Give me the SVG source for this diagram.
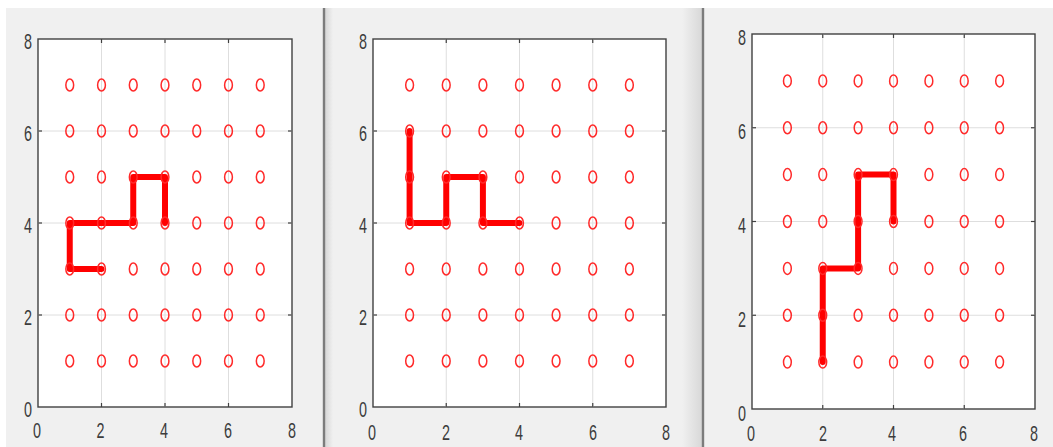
<svg xmlns="http://www.w3.org/2000/svg" xmlns:xlink="http://www.w3.org/1999/xlink" width="1053" height="447" viewBox="0 0 1053 447">
<style>
.bg{fill:#f0f0f0}
.sep{stroke:#7c7c7c;stroke-width:2.4}
.ax{fill:#ffffff;stroke:#404040;stroke-width:1.4}
.grid{stroke:#dedede;stroke-width:1}
.tick{stroke:#404040;stroke-width:1.2}
.lbl{font-family:"Liberation Sans",Arial,sans-serif;font-size:22px;fill:#3c3c3c;text-anchor:middle}
.pt{fill:none;stroke:#ff2a2a;stroke-width:1.5}
.path{fill:none;stroke:#ff0000;stroke-width:6;stroke-linejoin:round;stroke-linecap:round}
</style>
<defs>
<ellipse id="o" class="pt" cx="0" cy="0" rx="3.9" ry="6"/>
<linearGradient id="g1" x1="0" x2="1" y1="0" y2="0">
<stop offset="0" stop-color="#d6d6d6"/><stop offset="1" stop-color="#f0f0f0"/>
</linearGradient>
<linearGradient id="g2" x1="0" x2="1" y1="0" y2="0">
<stop offset="0" stop-color="#f0f0f0"/><stop offset="1" stop-color="#d8d8d8"/>
</linearGradient>
</defs>
<rect x="0" y="0" width="1053" height="447" fill="#ffffff"/>
<rect class="bg" x="6" y="8" width="1047" height="439"/>
<rect x="325" y="8" width="8" height="439" fill="url(#g1)"/>
<rect x="682" y="8" width="20" height="439" fill="url(#g2)"/>
<line class="sep" x1="324" y1="8" x2="324" y2="447"/>
<line class="sep" x1="703" y1="8" x2="703" y2="447"/>

<g id="panel1">
<rect class="ax" x="38" y="39" width="254" height="368"/>
<g class="grid">
<line x1="101.5" y1="39" x2="101.5" y2="407"/><line x1="165" y1="39" x2="165" y2="407"/><line x1="228.5" y1="39" x2="228.5" y2="407"/>
<line x1="38" y1="131" x2="292" y2="131"/><line x1="38" y1="223" x2="292" y2="223"/><line x1="38" y1="315" x2="292" y2="315"/>
</g>
<g class="tick">
<line x1="101.5" y1="407" x2="101.5" y2="403"/><line x1="165" y1="407" x2="165" y2="403"/><line x1="228.5" y1="407" x2="228.5" y2="403"/>
<line x1="101.5" y1="39" x2="101.5" y2="43"/><line x1="165" y1="39" x2="165" y2="43"/><line x1="228.5" y1="39" x2="228.5" y2="43"/>
<line x1="38" y1="131" x2="42" y2="131"/><line x1="38" y1="223" x2="42" y2="223"/><line x1="38" y1="315" x2="42" y2="315"/>
<line x1="292" y1="131" x2="288" y2="131"/><line x1="292" y1="223" x2="288" y2="223"/><line x1="292" y1="315" x2="288" y2="315"/>
</g>
<polyline class="path" points="101.5,269 69.75,269 69.75,223 133.25,223 133.25,177 165,177 165,223"/>
<g>
<use xlink:href="#o" x="69.75" y="85"/><use xlink:href="#o" x="101.5" y="85"/><use xlink:href="#o" x="133.25" y="85"/><use xlink:href="#o" x="165" y="85"/><use xlink:href="#o" x="196.75" y="85"/><use xlink:href="#o" x="228.5" y="85"/><use xlink:href="#o" x="260.25" y="85"/>
<use xlink:href="#o" x="69.75" y="131"/><use xlink:href="#o" x="101.5" y="131"/><use xlink:href="#o" x="133.25" y="131"/><use xlink:href="#o" x="165" y="131"/><use xlink:href="#o" x="196.75" y="131"/><use xlink:href="#o" x="228.5" y="131"/><use xlink:href="#o" x="260.25" y="131"/>
<use xlink:href="#o" x="69.75" y="177"/><use xlink:href="#o" x="101.5" y="177"/><use xlink:href="#o" x="133.25" y="177"/><use xlink:href="#o" x="165" y="177"/><use xlink:href="#o" x="196.75" y="177"/><use xlink:href="#o" x="228.5" y="177"/><use xlink:href="#o" x="260.25" y="177"/>
<use xlink:href="#o" x="69.75" y="223"/><use xlink:href="#o" x="101.5" y="223"/><use xlink:href="#o" x="133.25" y="223"/><use xlink:href="#o" x="165" y="223"/><use xlink:href="#o" x="196.75" y="223"/><use xlink:href="#o" x="228.5" y="223"/><use xlink:href="#o" x="260.25" y="223"/>
<use xlink:href="#o" x="69.75" y="269"/><use xlink:href="#o" x="101.5" y="269"/><use xlink:href="#o" x="133.25" y="269"/><use xlink:href="#o" x="165" y="269"/><use xlink:href="#o" x="196.75" y="269"/><use xlink:href="#o" x="228.5" y="269"/><use xlink:href="#o" x="260.25" y="269"/>
<use xlink:href="#o" x="69.75" y="315"/><use xlink:href="#o" x="101.5" y="315"/><use xlink:href="#o" x="133.25" y="315"/><use xlink:href="#o" x="165" y="315"/><use xlink:href="#o" x="196.75" y="315"/><use xlink:href="#o" x="228.5" y="315"/><use xlink:href="#o" x="260.25" y="315"/>
<use xlink:href="#o" x="69.75" y="361"/><use xlink:href="#o" x="101.5" y="361"/><use xlink:href="#o" x="133.25" y="361"/><use xlink:href="#o" x="165" y="361"/><use xlink:href="#o" x="196.75" y="361"/><use xlink:href="#o" x="228.5" y="361"/><use xlink:href="#o" x="260.25" y="361"/>
</g>
<g class="lbl">
<text x="28" y="49" textLength="8" lengthAdjust="spacingAndGlyphs">8</text>
<text x="28" y="141" textLength="8" lengthAdjust="spacingAndGlyphs">6</text>
<text x="28" y="233" textLength="8" lengthAdjust="spacingAndGlyphs">4</text>
<text x="28" y="325" textLength="8" lengthAdjust="spacingAndGlyphs">2</text>
<text x="28" y="417" textLength="8" lengthAdjust="spacingAndGlyphs">0</text>
<text x="37" y="438" textLength="8" lengthAdjust="spacingAndGlyphs">0</text>
<text x="100.5" y="438" textLength="8" lengthAdjust="spacingAndGlyphs">2</text>
<text x="164" y="438" textLength="8" lengthAdjust="spacingAndGlyphs">4</text>
<text x="228" y="438" textLength="8" lengthAdjust="spacingAndGlyphs">6</text>
<text x="292" y="438" textLength="8" lengthAdjust="spacingAndGlyphs">8</text>
</g>
</g>

<g id="panel2">
<rect class="ax" x="373" y="39" width="293" height="368"/>
<g class="grid">
<line x1="446.25" y1="39" x2="446.25" y2="407"/><line x1="519.5" y1="39" x2="519.5" y2="407"/><line x1="592.75" y1="39" x2="592.75" y2="407"/>
<line x1="373" y1="131" x2="666" y2="131"/><line x1="373" y1="223" x2="666" y2="223"/><line x1="373" y1="315" x2="666" y2="315"/>
</g>
<g class="tick">
<line x1="446.25" y1="407" x2="446.25" y2="403"/><line x1="519.5" y1="407" x2="519.5" y2="403"/><line x1="592.75" y1="407" x2="592.75" y2="403"/>
<line x1="446.25" y1="39" x2="446.25" y2="43"/><line x1="519.5" y1="39" x2="519.5" y2="43"/><line x1="592.75" y1="39" x2="592.75" y2="43"/>
<line x1="373" y1="131" x2="377" y2="131"/><line x1="373" y1="223" x2="377" y2="223"/><line x1="373" y1="315" x2="377" y2="315"/>
<line x1="666" y1="131" x2="662" y2="131"/><line x1="666" y1="223" x2="662" y2="223"/><line x1="666" y1="315" x2="662" y2="315"/>
</g>
<polyline class="path" points="409.6,131 409.6,223 446.25,223 446.25,177 482.9,177 482.9,223 519.5,223"/>
<g>
<use xlink:href="#o" x="409.6" y="85"/><use xlink:href="#o" x="446.25" y="85"/><use xlink:href="#o" x="482.9" y="85"/><use xlink:href="#o" x="519.5" y="85"/><use xlink:href="#o" x="556.1" y="85"/><use xlink:href="#o" x="592.75" y="85"/><use xlink:href="#o" x="629.4" y="85"/>
<use xlink:href="#o" x="409.6" y="131"/><use xlink:href="#o" x="446.25" y="131"/><use xlink:href="#o" x="482.9" y="131"/><use xlink:href="#o" x="519.5" y="131"/><use xlink:href="#o" x="556.1" y="131"/><use xlink:href="#o" x="592.75" y="131"/><use xlink:href="#o" x="629.4" y="131"/>
<use xlink:href="#o" x="409.6" y="177"/><use xlink:href="#o" x="446.25" y="177"/><use xlink:href="#o" x="482.9" y="177"/><use xlink:href="#o" x="519.5" y="177"/><use xlink:href="#o" x="556.1" y="177"/><use xlink:href="#o" x="592.75" y="177"/><use xlink:href="#o" x="629.4" y="177"/>
<use xlink:href="#o" x="409.6" y="223"/><use xlink:href="#o" x="446.25" y="223"/><use xlink:href="#o" x="482.9" y="223"/><use xlink:href="#o" x="519.5" y="223"/><use xlink:href="#o" x="556.1" y="223"/><use xlink:href="#o" x="592.75" y="223"/><use xlink:href="#o" x="629.4" y="223"/>
<use xlink:href="#o" x="409.6" y="269"/><use xlink:href="#o" x="446.25" y="269"/><use xlink:href="#o" x="482.9" y="269"/><use xlink:href="#o" x="519.5" y="269"/><use xlink:href="#o" x="556.1" y="269"/><use xlink:href="#o" x="592.75" y="269"/><use xlink:href="#o" x="629.4" y="269"/>
<use xlink:href="#o" x="409.6" y="315"/><use xlink:href="#o" x="446.25" y="315"/><use xlink:href="#o" x="482.9" y="315"/><use xlink:href="#o" x="519.5" y="315"/><use xlink:href="#o" x="556.1" y="315"/><use xlink:href="#o" x="592.75" y="315"/><use xlink:href="#o" x="629.4" y="315"/>
<use xlink:href="#o" x="409.6" y="361"/><use xlink:href="#o" x="446.25" y="361"/><use xlink:href="#o" x="482.9" y="361"/><use xlink:href="#o" x="519.5" y="361"/><use xlink:href="#o" x="556.1" y="361"/><use xlink:href="#o" x="592.75" y="361"/><use xlink:href="#o" x="629.4" y="361"/>
</g>
<g class="lbl">
<text x="363" y="49" textLength="8" lengthAdjust="spacingAndGlyphs">8</text>
<text x="363" y="141" textLength="8" lengthAdjust="spacingAndGlyphs">6</text>
<text x="363" y="233" textLength="8" lengthAdjust="spacingAndGlyphs">4</text>
<text x="363" y="325" textLength="8" lengthAdjust="spacingAndGlyphs">2</text>
<text x="363" y="417" textLength="8" lengthAdjust="spacingAndGlyphs">0</text>
<text x="372" y="440" textLength="8" lengthAdjust="spacingAndGlyphs">0</text>
<text x="446" y="440" textLength="8" lengthAdjust="spacingAndGlyphs">2</text>
<text x="519" y="440" textLength="8" lengthAdjust="spacingAndGlyphs">4</text>
<text x="593" y="440" textLength="8" lengthAdjust="spacingAndGlyphs">6</text>
<text x="666" y="440" textLength="8" lengthAdjust="spacingAndGlyphs">8</text>
</g>
</g>

<g id="panel3">
<rect class="ax" x="752" y="34" width="283" height="375"/>
<g class="grid">
<line x1="822.75" y1="34" x2="822.75" y2="409"/><line x1="893.5" y1="34" x2="893.5" y2="409"/><line x1="964.25" y1="34" x2="964.25" y2="409"/>
<line x1="752" y1="127.75" x2="1035" y2="127.75"/><line x1="752" y1="221.5" x2="1035" y2="221.5"/><line x1="752" y1="315.25" x2="1035" y2="315.25"/>
</g>
<g class="tick">
<line x1="822.75" y1="409" x2="822.75" y2="405"/><line x1="893.5" y1="409" x2="893.5" y2="405"/><line x1="964.25" y1="409" x2="964.25" y2="405"/>
<line x1="822.75" y1="34" x2="822.75" y2="38"/><line x1="893.5" y1="34" x2="893.5" y2="38"/><line x1="964.25" y1="34" x2="964.25" y2="38"/>
<line x1="752" y1="127.75" x2="756" y2="127.75"/><line x1="752" y1="221.5" x2="756" y2="221.5"/><line x1="752" y1="315.25" x2="756" y2="315.25"/>
<line x1="1035" y1="127.75" x2="1031" y2="127.75"/><line x1="1035" y1="221.5" x2="1031" y2="221.5"/><line x1="1035" y1="315.25" x2="1031" y2="315.25"/>
</g>
<polyline class="path" points="822.75,362.1 822.75,268.4 858.1,268.4 858.1,174.6 893.5,174.6 893.5,221.5"/>
<g>
<use xlink:href="#o" x="787.4" y="80.9"/><use xlink:href="#o" x="822.75" y="80.9"/><use xlink:href="#o" x="858.1" y="80.9"/><use xlink:href="#o" x="893.5" y="80.9"/><use xlink:href="#o" x="928.9" y="80.9"/><use xlink:href="#o" x="964.25" y="80.9"/><use xlink:href="#o" x="999.6" y="80.9"/>
<use xlink:href="#o" x="787.4" y="127.75"/><use xlink:href="#o" x="822.75" y="127.75"/><use xlink:href="#o" x="858.1" y="127.75"/><use xlink:href="#o" x="893.5" y="127.75"/><use xlink:href="#o" x="928.9" y="127.75"/><use xlink:href="#o" x="964.25" y="127.75"/><use xlink:href="#o" x="999.6" y="127.75"/>
<use xlink:href="#o" x="787.4" y="174.6"/><use xlink:href="#o" x="822.75" y="174.6"/><use xlink:href="#o" x="858.1" y="174.6"/><use xlink:href="#o" x="893.5" y="174.6"/><use xlink:href="#o" x="928.9" y="174.6"/><use xlink:href="#o" x="964.25" y="174.6"/><use xlink:href="#o" x="999.6" y="174.6"/>
<use xlink:href="#o" x="787.4" y="221.5"/><use xlink:href="#o" x="822.75" y="221.5"/><use xlink:href="#o" x="858.1" y="221.5"/><use xlink:href="#o" x="893.5" y="221.5"/><use xlink:href="#o" x="928.9" y="221.5"/><use xlink:href="#o" x="964.25" y="221.5"/><use xlink:href="#o" x="999.6" y="221.5"/>
<use xlink:href="#o" x="787.4" y="268.4"/><use xlink:href="#o" x="822.75" y="268.4"/><use xlink:href="#o" x="858.1" y="268.4"/><use xlink:href="#o" x="893.5" y="268.4"/><use xlink:href="#o" x="928.9" y="268.4"/><use xlink:href="#o" x="964.25" y="268.4"/><use xlink:href="#o" x="999.6" y="268.4"/>
<use xlink:href="#o" x="787.4" y="315.25"/><use xlink:href="#o" x="822.75" y="315.25"/><use xlink:href="#o" x="858.1" y="315.25"/><use xlink:href="#o" x="893.5" y="315.25"/><use xlink:href="#o" x="928.9" y="315.25"/><use xlink:href="#o" x="964.25" y="315.25"/><use xlink:href="#o" x="999.6" y="315.25"/>
<use xlink:href="#o" x="787.4" y="362.1"/><use xlink:href="#o" x="822.75" y="362.1"/><use xlink:href="#o" x="858.1" y="362.1"/><use xlink:href="#o" x="893.5" y="362.1"/><use xlink:href="#o" x="928.9" y="362.1"/><use xlink:href="#o" x="964.25" y="362.1"/><use xlink:href="#o" x="999.6" y="362.1"/>
</g>
<g class="lbl">
<text x="742" y="45" textLength="8" lengthAdjust="spacingAndGlyphs">8</text>
<text x="742" y="139" textLength="8" lengthAdjust="spacingAndGlyphs">6</text>
<text x="742" y="232.5" textLength="8" lengthAdjust="spacingAndGlyphs">4</text>
<text x="742" y="326.5" textLength="8" lengthAdjust="spacingAndGlyphs">2</text>
<text x="742" y="420.5" textLength="8" lengthAdjust="spacingAndGlyphs">0</text>
<text x="751" y="441" textLength="8" lengthAdjust="spacingAndGlyphs">0</text>
<text x="823" y="441" textLength="8" lengthAdjust="spacingAndGlyphs">2</text>
<text x="892" y="441" textLength="8" lengthAdjust="spacingAndGlyphs">4</text>
<text x="963" y="441" textLength="8" lengthAdjust="spacingAndGlyphs">6</text>
<text x="1034" y="441" textLength="8" lengthAdjust="spacingAndGlyphs">8</text>
</g>
</g>
</svg>
